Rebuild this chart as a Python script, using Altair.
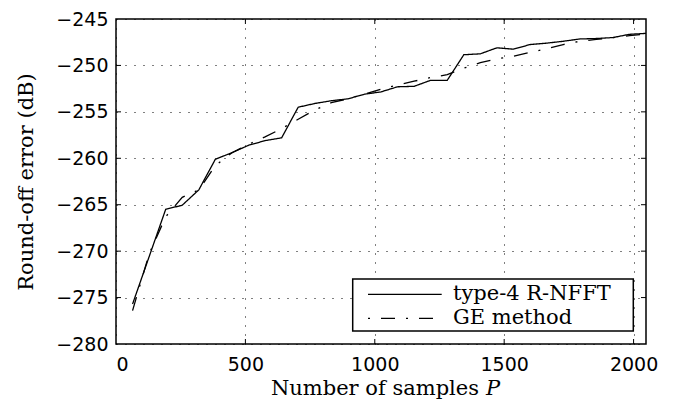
import altair as alt
import pandas as pd

# ---- data ----
P = [64, 128, 192, 256, 320, 384, 448, 512, 576, 640, 704, 768, 832, 896, 960, 1024,
     1088, 1152, 1216, 1280, 1344, 1408, 1472, 1536, 1600, 1664, 1728, 1792, 1856, 1920, 1984, 2048]
rnfft = [-275.7, -270.6, -265.5, -265.05, -263.4, -260.1, -259.4, -258.6, -258.1, -257.8,
         -254.5, -254.1, -253.8, -253.6, -253.1, -252.85, -252.3, -252.25, -251.6, -251.6,
         -248.85, -248.75, -248.1, -248.25, -247.75, -247.6, -247.4, -247.15, -247.1, -247.0,
         -246.65, -246.55]
ge = [-276.4, -270.3, -266.3, -264.2, -263.4, -260.8, -259.4, -258.5, -257.7, -256.8,
      -255.8, -254.8, -254.0, -253.6, -253.1, -252.55, -252.1, -251.7, -251.3, -251.0,
      -250.3, -249.7, -249.3, -249.0, -248.6, -248.2, -247.75, -247.4, -247.2, -247.0,
      -246.8, -246.6]
series_names = ["type-4 R-NFFT", "GE method"]
x_ticks = [0, 500, 1000, 1500, 2000]
y_ticks = [-280, -275, -270, -265, -260, -255, -250, -245]
x_domain = [0, 2048]
y_domain = [-280, -245]
x_title = ["Number of samples", "P"]
y_title = "Round-off error (dB)"

W, H = 530, 325
DASHDOT = [14, 11, 2, 11]

df = pd.DataFrame({
    "P": P * 2,
    "dB": rnfft + ge,
    "series": [series_names[0]] * len(P) + [series_names[1]] * len(P),
})

xs = alt.Scale(domain=x_domain, nice=False, zero=False)
ys = alt.Scale(domain=y_domain, nice=False, zero=False)

x_axis = alt.Axis(values=x_ticks, format="d", title=None, labelPadding=11)
y_axis = alt.Axis(values=y_ticks, format="d", title=y_title, labelPadding=8,
                  titlePadding=19, titleFont="DejaVu Serif", titleFontSize=21,
                  titleFontWeight="normal", titleColor="black")

lines = alt.Chart(df).mark_line(color="black", strokeWidth=1.3, clip=True).encode(
    x=alt.X("P:Q", scale=xs, axis=x_axis),
    y=alt.Y("dB:Q", scale=ys, axis=y_axis),
    strokeDash=alt.StrokeDash("series:N", scale=alt.Scale(domain=series_names, range=[[1, 0], DASHDOT]),
                              legend=None),
    detail="series:N",
)

xt = pd.DataFrame({"P": x_ticks[1:]})
yt = pd.DataFrame({"dB": y_ticks[1:-1]})
tick_style = dict(color="black", strokeWidth=1)
t_bottom = alt.Chart(xt).mark_rule(**tick_style).encode(
    x=alt.X("P:Q", scale=xs, axis=x_axis), y=alt.value(H), y2=alt.value(H - 5))
t_top = alt.Chart(xt).mark_rule(**tick_style).encode(
    x=alt.X("P:Q", scale=xs, axis=x_axis), y=alt.value(0), y2=alt.value(5))
t_left = alt.Chart(yt).mark_rule(**tick_style).encode(
    y=alt.Y("dB:Q", scale=ys, axis=y_axis), x=alt.value(0), x2=alt.value(5))
t_right = alt.Chart(yt).mark_rule(**tick_style).encode(
    y=alt.Y("dB:Q", scale=ys, axis=y_axis), x=alt.value(W), x2=alt.value(W - 5))

# x title with italic P
xt1 = alt.Chart(pd.DataFrame({"t": [x_title[0]]})).mark_text(
    font="DejaVu Serif", fontSize=21, align="right", baseline="alphabetic", color="black"
).encode(x=alt.value(363), y=alt.value(376), text="t:N")
xt2 = alt.Chart(pd.DataFrame({"t": [x_title[1]]})).mark_text(
    font="DejaVu Serif", fontSize=21, fontStyle="italic", align="left", baseline="alphabetic", color="black"
).encode(x=alt.value(370), y=alt.value(376), text="t:N")

# legend
one = pd.DataFrame({"a": [0]})
leg_box = alt.Chart(one).mark_rect(fill="white", stroke="black", strokeWidth=1.5).encode(
    x=alt.value(236.7), x2=alt.value(517.3), y=alt.value(260), y2=alt.value(312))
leg_l1 = alt.Chart(one).mark_rule(color="black", strokeWidth=1.3).encode(
    x=alt.value(252), x2=alt.value(325.7), y=alt.value(275.3))
leg_l2 = alt.Chart(one).mark_rule(color="black", strokeWidth=1.3, strokeDash=DASHDOT,
                                  strokeDashOffset=25).encode(
    x=alt.value(252), x2=alt.value(325.7), y=alt.value(299.3))
leg_t1 = alt.Chart(pd.DataFrame({"t": [series_names[0]]})).mark_text(
    font="DejaVu Serif", fontSize=21, align="left", baseline="middle", color="black"
).encode(x=alt.value(337), y=alt.value(275.3), text="t:N")
leg_t2 = alt.Chart(pd.DataFrame({"t": [series_names[1]]})).mark_text(
    font="DejaVu Serif", fontSize=21, align="left", baseline="middle", color="black"
).encode(x=alt.value(337), y=alt.value(299.3), text="t:N")

chart = alt.layer(
    lines, t_bottom, t_top, t_left, t_right, xt1, xt2, leg_box, leg_l1, leg_l2, leg_t1, leg_t2
).properties(
    width=W, height=H,
    background="white",
    autosize=alt.AutoSizeParams(type="none"),
    padding={"left": 108, "top": 11, "right": 23, "bottom": 55},
).configure_view(
    stroke="black", strokeWidth=1.5
).configure_axis(
    labelFont="DejaVu Sans", labelFontSize=19, labelColor="black",
    grid=True, gridColor="black", gridDash=[1, 8], gridWidth=1, gridOpacity=1,
    ticks=False, tickSize=0, domain=False,
)

chart.save("out.html", embed_options={"renderer": "svg", "actions": False})
